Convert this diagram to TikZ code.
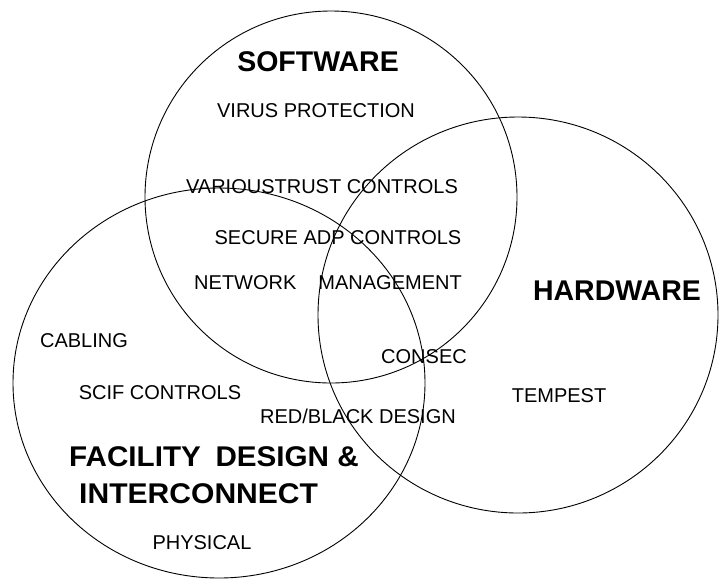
\documentclass[tikz,border=0pt]{standalone}
\usepackage{fontspec}
\usepackage{graphicx}
\setmainfont{Liberation Sans}
\begin{document}
\begin{tikzpicture}[x=1pt,y=-1pt,
  ring/.style={draw=black,line width=0.9pt},
  lbl/.style={inner sep=0pt,anchor=base,font=\fontsize{20}{22}\selectfont},
  head/.style={inner sep=0pt,anchor=base,font=\fontsize{28.5}{30}\selectfont\bfseries}]
\useasboundingbox (0,0) rectangle (720,579);
% circles
\draw[ring] (331,197) circle[x radius=186,y radius=186];
\draw[ring] (518,315) circle[x radius=200,y radius=198];
\draw[ring] (219,383) circle[x radius=206,y radius=195];
% labels
\node[head] (sw) at (318,71) {SOFTWARE};
\node[lbl] (virus) at (316,117) {VIRUS PROTECTION};
\node[lbl] (trust) at (322,193) {VARIOUSTRUST CONTROLS};
\node[lbl] (adp) at (338,244) {SECURE ADP CONTROLS};
\node[lbl] (net) at (328,289) {NETWORK\hspace{22pt}MANAGEMENT};
\node[head] (hw) at (617,300) {HARDWARE};
\node[lbl] (cab) at (84,347) {CABLING};
\node[lbl] (consec) at (424,363) {CONSEC};
\node[lbl] (scif) at (160,399) {SCIF CONTROLS};
\node[lbl] (temp) at (559,402) {TEMPEST};
\node[lbl] (red) at (358,423) {RED/BLACK DESIGN};
\node[head,anchor=base west] (fac1) at (69,466) {\scalebox{1.04}[1]{FACILITY\hspace{14pt}DESIGN \&}};
\node[head,anchor=base west] (fac2) at (79,503) {\scalebox{1.055}[1]{INTERCONNECT}};
\node[lbl] (phys) at (202,549) {PHYSICAL};
\end{tikzpicture}
\end{document}
